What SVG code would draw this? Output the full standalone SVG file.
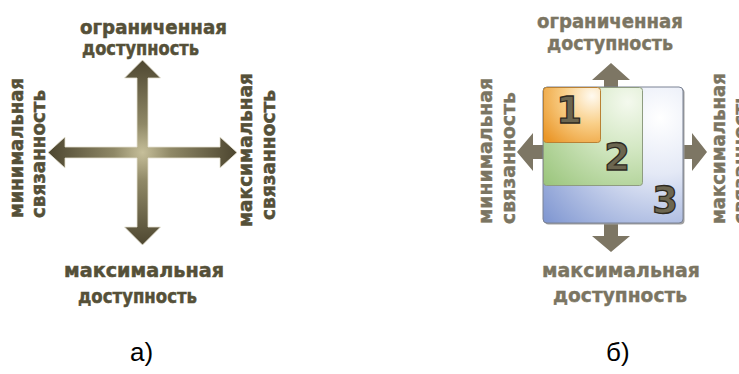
<svg xmlns="http://www.w3.org/2000/svg" width="739" height="374" viewBox="0 0 739 374">
<style>
.lblA{font-family:"DejaVu Sans","Liberation Sans",Arial,sans-serif;font-weight:bold;font-size:19px;fill:#555038;stroke:#555038;stroke-width:0.5}
.lblB{font-family:"DejaVu Sans","Liberation Sans",Arial,sans-serif;font-weight:bold;font-size:19px;fill:#7b7562;stroke:#7b7562;stroke-width:0.4}
.num{font-family:"DejaVu Sans","Liberation Sans",Arial,sans-serif;font-weight:bold;font-size:37px;fill:#6c6650;stroke:#2e2a1f;stroke-width:1.3;text-anchor:middle}
.cap{font-family:"Liberation Sans",Arial,sans-serif;font-size:26px;fill:#000}
.arrB{fill:#7d7664}
</style>
<defs>
<radialGradient id="gCross" gradientUnits="userSpaceOnUse" cx="142.5" cy="152.5" r="95">
<stop offset="0" stop-color="#c6bf9a"/>
<stop offset="0.3" stop-color="#8f8866"/>
<stop offset="1" stop-color="#4c452f"/>
</radialGradient>
<radialGradient id="gBlue" gradientUnits="userSpaceOnUse" cx="660" cy="118" r="160">
<stop offset="0" stop-color="#ffffff"/>
<stop offset="0.35" stop-color="#e4e9f6"/>
<stop offset="1" stop-color="#7a92cf"/>
</radialGradient>
<radialGradient id="gGreen" gradientUnits="userSpaceOnUse" cx="628" cy="102" r="115">
<stop offset="0" stop-color="#f4f9ee"/>
<stop offset="0.4" stop-color="#d4e8c4"/>
<stop offset="1" stop-color="#9cc67e"/>
</radialGradient>
<radialGradient id="gOrange" gradientUnits="userSpaceOnUse" cx="592" cy="96" r="62">
<stop offset="0" stop-color="#fffaf0"/>
<stop offset="0.45" stop-color="#f9cf88"/>
<stop offset="1" stop-color="#ea9628"/>
</radialGradient>
</defs>

<g id="figA">
<g id="cross">
<path fill="url(#gCross)" stroke="#e6e2d2" stroke-width="0.8" d="M142.5,60 L160.5,78 L148,78 L148,147 L220,147 L220,137 L237,152.5 L220,168 L220,158 L148,158 L148,227 L160.5,227 L142.5,245 L124.5,227 L137,227 L137,158 L65,158 L65,168 L48,152.5 L65,137 L65,147 L137,147 L137,78 L124.5,78 Z"/>
</g>
<g id="a-top"><text class="lblA" x="80" y="34" textLength="147" lengthAdjust="spacingAndGlyphs">ограниченная</text><text class="lblA" x="82" y="55" textLength="117" lengthAdjust="spacingAndGlyphs">доступность</text></g>
<g id="a-bottom"><text class="lblA" x="64" y="277" textLength="160" lengthAdjust="spacingAndGlyphs">максимальная</text><text class="lblA" x="78" y="303" textLength="119" lengthAdjust="spacingAndGlyphs">доступность</text></g>
<g id="a-left"><text class="lblA" transform="translate(23,218) rotate(-90)" textLength="140" lengthAdjust="spacingAndGlyphs">минимальная</text><text class="lblA" transform="translate(45,218) rotate(-90)" textLength="128" lengthAdjust="spacingAndGlyphs">связанность</text></g>
<g id="a-right"><text class="lblA" transform="translate(252,227) rotate(-90)" textLength="154" lengthAdjust="spacingAndGlyphs">максимальная</text><text class="lblA" transform="translate(275,220) rotate(-90)" textLength="130" lengthAdjust="spacingAndGlyphs">связанность</text></g>
</g>

<g id="figB">
<g id="connectors">
<path class="arrB" d="M611,63 L630,80 L618,80 L618,88 L604,88 L604,80 L592,80 Z"/>
<path class="arrB" d="M611,252 L630,236 L618,236 L618,222 L604,222 L604,236 L592,236 Z"/>
<path class="arrB" d="M517,152 L533,133 L533,145 L544,145 L544,159 L533,159 L533,171 Z"/>
<path class="arrB" d="M707,152 L692,133 L692,145 L682,145 L682,159 L692,159 L692,171 Z"/>
</g>
<g id="box3">
<rect x="544.5" y="88.5" width="140" height="136" rx="4" fill="#a0a0a0"/>
<rect x="543" y="87" width="140" height="136" rx="4" fill="url(#gBlue)" stroke="#7a8294" stroke-width="1"/>
<text class="num" x="665" y="213">3</text>
</g>
<g id="box2">
<rect x="543.5" y="87.5" width="99" height="98" rx="3" fill="url(#gGreen)" stroke="#8e9c80" stroke-width="1"/>
<text class="num" x="617" y="170">2</text>
</g>
<g id="box1">
<rect x="543.5" y="87.5" width="57" height="55" rx="3" fill="url(#gOrange)" stroke="#b98134" stroke-width="1"/>
<text class="num" x="569" y="123">1</text>
</g>
<g id="b-top"><text class="lblB" x="537" y="28" textLength="146" lengthAdjust="spacingAndGlyphs">ограниченная</text><text class="lblB" x="547" y="50" textLength="126" lengthAdjust="spacingAndGlyphs">доступность</text></g>
<g id="b-bottom"><text class="lblB" x="542" y="277" textLength="158" lengthAdjust="spacingAndGlyphs">максимальная</text><text class="lblB" x="553" y="302" textLength="134" lengthAdjust="spacingAndGlyphs">доступность</text></g>
<g id="b-left"><text class="lblB" transform="translate(492,224) rotate(-90)" textLength="146" lengthAdjust="spacingAndGlyphs">минимальная</text><text class="lblB" transform="translate(515,224) rotate(-90)" textLength="132" lengthAdjust="spacingAndGlyphs">связанность</text></g>
<g id="b-right"><text class="lblB" transform="translate(725,224) rotate(-90)" textLength="151" lengthAdjust="spacingAndGlyphs">максимальная</text><text class="lblB" transform="translate(747,224) rotate(-90)" textLength="132" lengthAdjust="spacingAndGlyphs">связанность</text></g>
</g>

<g id="captions">
<text class="cap" x="130" y="361">а)</text>
<text class="cap" x="606" y="361">б)</text>
</g>
</svg>
